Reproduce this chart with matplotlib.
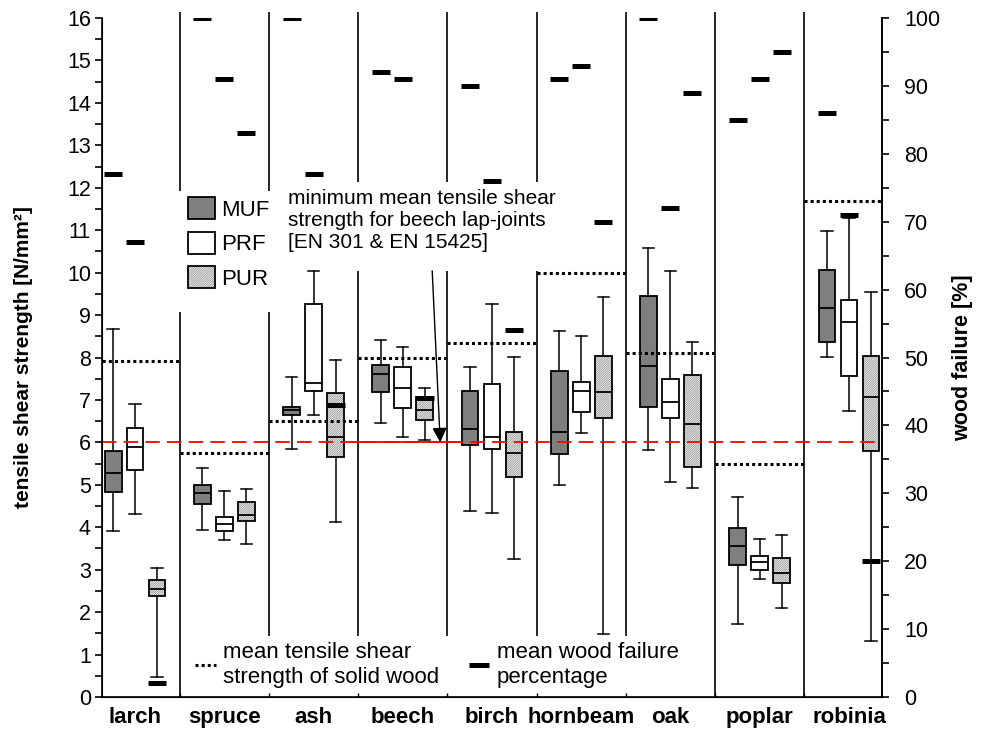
import numpy as np
import matplotlib
matplotlib.use("Agg")
import matplotlib.pyplot as plt
from matplotlib.patches import Patch
from matplotlib.lines import Line2D

plt.rcParams['font.family'] = ['Liberation Sans', 'DejaVu Sans']
plt.rcParams['hatch.linewidth'] = 0.5

species = ['larch', 'spruce', 'ash', 'beech', 'birch', 'hornbeam', 'oak', 'poplar', 'robinia']
adhesives = ['MUF', 'PRF', 'PUR']

# box stats per species: (whisker low, q1, median, q3, whisker high) in N/mm²
muf_stats = [
    (3.91, 4.83, 5.28, 5.80, 8.67),
    (3.93, 4.55, 4.81, 5.00, 5.40),
    (5.84, 6.64, 6.76, 6.83, 7.54),
    (6.45, 7.19, 7.61, 7.83, 8.41),
    (4.38, 5.94, 6.32, 7.21, 7.78),
    (4.99, 5.73, 6.24, 7.68, 8.62),
    (5.82, 6.83, 7.80, 9.45, 10.58),
    (1.72, 3.11, 3.56, 3.98, 4.71),
    (8.01, 8.36, 9.17, 10.06, 10.98),
]
prf_stats = [
    (4.31, 5.35, 5.89, 6.34, 6.90),
    (3.70, 3.91, 4.08, 4.24, 4.85),
    (6.64, 7.21, 7.40, 9.26, 10.04),
    (6.13, 6.81, 7.27, 7.77, 8.24),
    (4.34, 5.84, 6.13, 7.37, 9.26),
    (6.22, 6.72, 7.21, 7.42, 8.51),
    (5.07, 6.57, 6.95, 7.49, 10.04),
    (2.78, 2.99, 3.18, 3.32, 3.72),
    (6.74, 7.56, 8.84, 9.35, 11.29),
]
pur_stats = [
    (0.47, 2.38, 2.54, 2.76, 3.04),
    (3.60, 4.15, 4.29, 4.60, 4.90),
    (4.12, 5.66, 6.13, 7.16, 7.94),
    (6.05, 6.52, 6.76, 7.07, 7.28),
    (3.25, 5.18, 5.75, 6.24, 8.02),
    (1.48, 6.57, 7.19, 8.03, 9.43),
    (4.92, 5.42, 6.43, 7.59, 8.36),
    (2.10, 2.69, 2.92, 3.28, 3.82),
    (1.32, 5.80, 7.07, 8.03, 9.54),
]

# mean wood failure percentage
wf_muf = [77, 100, 100, 92, 90, 91, 100, 85, 86]
wf_prf = [67, 91, 77, 91, 76, 93, 72, 91, 71]
wf_pur = [2, 83, 43, 44, 54, 70, 89, 95, 20]

# mean tensile shear strength of solid wood
solid_wood = [7.92, 5.75, 6.5, 8.0, 8.34, 10.0, 8.1, 5.49, 11.69]
min_beech = 6.0

# separator line segments (y ranges) between species, gaps leave room for text
sep_segments = [
    [(11.92, 16.14), (0, 9.07)],
    [(11.92, 16.14), (1.44, 9.07)],
    [(12.13, 16.14), (1.44, 10.04)],
    [(12.13, 16.14), (1.44, 10.04)],
    [(12.13, 16.14), (1.44, 10.04)],
    [(1.44, 16.14)],
    [(0, 16.14)],
    [(0, 16.14)],
]

HATCH = '/' * 15
HATCH_FACE = '#f2f2f2'
HATCH_EDGE = '#8c8c8c'


def to_stats(rows):
    return [dict(whislo=r[0], q1=r[1], med=r[2], q3=r[3], whishi=r[4]) for r in rows]


fig = plt.figure(figsize=(9.83, 7.37), dpi=100)
ax = fig.add_axes([102 / 983, 40 / 737, 780 / 983, 679 / 737])
ax.set_xlim(-0.37, 8.37)
ax.set_ylim(0, 16)

x = np.arange(len(species))
off = 0.2465
w = 0.19

common = dict(widths=w, capwidths=0.125, patch_artist=True, showfliers=False, manage_ticks=False,
              whiskerprops=dict(color='k', lw=1.1), capprops=dict(color='k', lw=1.1),
              medianprops=dict(color='k', lw=1.3))

ax.bxp(to_stats(muf_stats), positions=x - off,
       boxprops=dict(facecolor='#7f7f7f', edgecolor='k', lw=1.3), **common)
ax.bxp(to_stats(prf_stats), positions=x,
       boxprops=dict(facecolor='white', edgecolor='k', lw=1.3), **common)
# hatch layer for PUR, then outline on top
ax.bxp(to_stats(pur_stats), positions=x + off, widths=w, patch_artist=True, showfliers=False,
       manage_ticks=False, showcaps=False,
       boxprops=dict(facecolor=HATCH_FACE, edgecolor=HATCH_EDGE, hatch=HATCH, lw=0),
       whiskerprops=dict(lw=0), medianprops=dict(lw=0))
ax.bxp(to_stats(pur_stats), positions=x + off,
       boxprops=dict(facecolor='none', edgecolor='k', lw=1.3), **common)

# separators
for i, segs in enumerate(sep_segments):
    for y0, y1 in segs:
        ax.vlines(i + 0.5, y0, y1, color='k', lw=1.2, clip_on=False, zorder=1)

# solid wood reference
ax.hlines(solid_wood, x - 0.5, x + 0.5, colors='k', linestyles=(0, (1, 1)), lw=2.2, zorder=3)

# minimum requirement line
ax.axhline(min_beech, color='red', lw=1.3, dashes=(8, 4), zorder=6)
ax.hlines(min_beech, 2.41, 3.61, color='red', lw=1.3, zorder=6)

ax.text(1.71, 11.97, "minimum mean tensile shear\nstrength for beech lap-joints\n[EN 301 & EN 15425]",
        fontsize=15, va='top', ha='left')
ax.annotate('', xy=(3.42, min_beech), xytext=(3.33, 10.04),
            arrowprops=dict(arrowstyle='-|>', color='k', lw=1.0, mutation_scale=22,
                            shrinkA=0, shrinkB=0), zorder=7)

# axes styling
ax.spines['top'].set_visible(False)
for s in ['left', 'bottom', 'right']:
    ax.spines[s].set_linewidth(1.2)
ax.set_xticks(x[:-1] + 0.5)
ax.set_xticklabels([])
ax.tick_params(axis='x', which='major', direction='in', length=3, width=1)
ax.set_xticks(x, minor=True)
ax.set_xticklabels(species, minor=True, fontweight='bold', fontsize=16)
ax.tick_params(axis='x', which='minor', length=0, pad=7)

ax.set_yticks(range(0, 17))
ax.set_yticks(np.arange(0.5, 16, 1), minor=True)
ax.tick_params(axis='y', which='both', direction='out', length=5, width=1.2, labelsize=15.5, pad=3)
ax.set_ylabel('tensile shear strength [N/mm²]', fontweight='bold', fontsize=15)
ax.yaxis.set_label_coords(-0.088, 0.5)

ax2 = ax.twinx()
ax2.set_ylim(0, 100)
ax2.spines['top'].set_visible(False)
ax2.spines['right'].set_linewidth(1.2)
ax2.set_yticks(range(0, 101, 10))
ax2.set_yticks(range(5, 100, 10), minor=True)
ax2.tick_params(axis='y', which='both', direction='out', length=5, width=1.2, labelsize=15.5, pad=11)
ax2.set_ylabel('wood failure [%]', fontweight='bold', fontsize=15.5)
ax2.yaxis.set_label_coords(1.09, 0.5)

for wf, o in zip([wf_muf, wf_prf, wf_pur], [-off, 0, off]):
    ax2.plot(x + o, wf, ls='none', marker='_', ms=12.5, mew=3.6, color='k', zorder=5)

# legends
p_muf = Patch(facecolor='#7f7f7f', edgecolor='k', lw=1.3)
p_prf = Patch(facecolor='white', edgecolor='k', lw=1.3)
p_pur = (Patch(facecolor=HATCH_FACE, edgecolor=HATCH_EDGE, hatch=HATCH, lw=0),
         Patch(facecolor='none', edgecolor='k', lw=1.3))
leg1 = ax.legend([p_muf, p_prf, p_pur], adhesives, loc='upper left',
                 bbox_to_anchor=(188 / 983, 1 - 197 / 737), bbox_transform=fig.transFigure,
                 frameon=False, fontsize=16, handlelength=1.2, handleheight=1.15,
                 handletextpad=0.3, labelspacing=0.5, borderpad=0, borderaxespad=0)
ax.add_artist(leg1)

h_dot = Line2D([], [], color='k', lw=2.2, ls=(0, (1, 1)))
h_wf = Line2D([], [], color='k', ls='none', marker='_', ms=14, mew=3.6)
ax.legend([h_dot, h_wf], ["mean tensile shear\nstrength of solid wood", "mean wood failure\npercentage"],
          ncol=2, loc='center left', bbox_to_anchor=(195 / 983, 1 - 665 / 737),
          bbox_transform=fig.transFigure, frameon=False, fontsize=16, handlelength=0.95,
          handletextpad=0.3, columnspacing=1.35, borderpad=0, borderaxespad=0)

fig.savefig('out.png', dpi=100)
